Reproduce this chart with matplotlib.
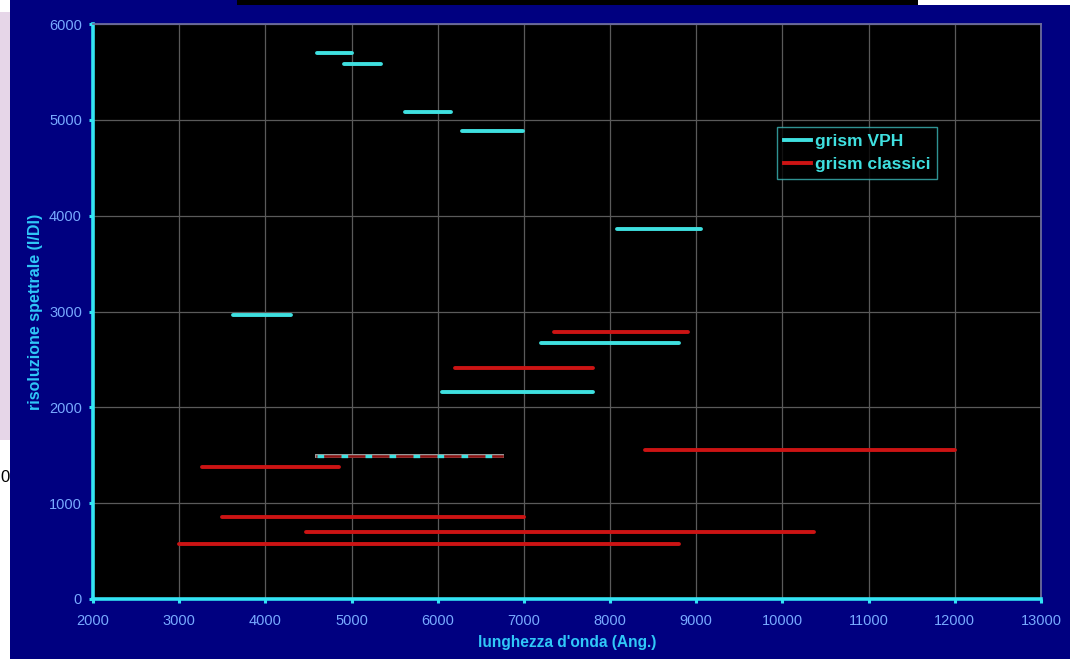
import matplotlib
matplotlib.use("Agg")
import matplotlib.pyplot as plt
from matplotlib.lines import Line2D
from matplotlib.patches import Rectangle

# ---- data (wavelength range in Angstrom, spectral resolution) ----
vph_start = [4600, 4910, 5620, 6280, 8080, 3630, 7200, 6050]
vph_end   = [5000, 5340, 6150, 6990, 9050, 4300, 8800, 7800]
vph_res   = [5700, 5580, 5080, 4880, 3860, 2965, 2670, 2160]

cls_start = [7350, 6200, 8400, 3260, 3500, 4470, 3000]
cls_end   = [8900, 7800, 12000, 4850, 7000, 10370, 8800]
cls_res   = [2783, 2407, 1555, 1374, 853, 702, 577]

# grism present in both families (drawn dashed)
shared_start = [4600]
shared_end   = [6750]
shared_res   = [1492]

series_labels = ["grism VPH", "grism classici"]
x_ticks = list(range(2000, 13001, 1000))
y_ticks = list(range(0, 6001, 1000))
x_label = "lunghezza d'onda (Ang.)"
y_label = "risoluzione spettrale (l/Dl)"

# ---- style ----
NAVY = "#000080"
CYAN = "#3fe0e0"
RED = "#cc1414"
AXCYAN = "#33e4f4"
TICKTXT = "#78aaff"
LABTXT = "#30c8f8"

plt.rcParams['font.family'] = ['Liberation Sans', 'DejaVu Sans']

fig = plt.figure(figsize=(10.70, 6.59), dpi=100, facecolor=NAVY)

W, H = 1070, 659
def px_rect(x0, y0, x1, y1, color):
    fig.patches.append(Rectangle((x0 / W, 1 - y1 / H), (x1 - x0) / W, (y1 - y0) / H,
                                 transform=fig.transFigure, facecolor=color,
                                 edgecolor='none', zorder=0))

# slide remnants around the screenshot
px_rect(0, 0, 10, 659, "white")
px_rect(0, 12, 10, 440, "#e6d6e8")
px_rect(237, 0, 918, 5, "black")
px_rect(918, 0, 1070, 5, "white")
fig.text(0.0, 1 - 478 / H, "0", color="black", fontsize=12, va="center", ha="left")

ax = fig.add_axes([93 / W, 1 - 599 / H, (1041 - 93) / W, (599 - 24) / H])
ax.set_facecolor("black")

for s, e, r in zip(vph_start, vph_end, vph_res):
    ax.plot([s, e], [r, r], color=CYAN, lw=2.8, solid_capstyle='round', zorder=3)
for s, e, r in zip(cls_start, cls_end, cls_res):
    ax.plot([s, e], [r, r], color=RED, lw=2.8, solid_capstyle='round', zorder=3)
for s, e, r in zip(shared_start, shared_end, shared_res):
    ax.plot([s, e], [r, r], color="#a0a0a0", lw=2.8, zorder=3)
    ax.plot([s, e], [r, r], color="#8a1010", lw=1.8, zorder=4)
    ax.plot([s, e], [r, r], color=CYAN, lw=2.4, dashes=(2.0, 5.2), dash_capstyle='butt', zorder=5)

ax.set_xlim(x_ticks[0], x_ticks[-1])
ax.set_ylim(y_ticks[0], y_ticks[-1])
ax.set_xticks(x_ticks)
ax.set_yticks(y_ticks)
ax.grid(True, color="#5a5a5a", lw=0.9, zorder=1)
ax.set_axisbelow(True)

for side in ("left", "bottom"):
    ax.spines[side].set_color(AXCYAN)
    ax.spines[side].set_linewidth(2.6)
for side in ("top", "right"):
    ax.spines[side].set_color("#6c6c9c")
    ax.spines[side].set_linewidth(1.3)

ax.tick_params(axis='both', colors=AXCYAN, length=3, width=2.2, direction='out',
               labelcolor=TICKTXT, labelsize=10.5)
ax.tick_params(axis='x', pad=8)
ax.tick_params(axis='y', pad=5)

ax.set_xlabel(x_label, color=LABTXT, fontsize=11.2, fontweight='bold', labelpad=5)
ax.set_ylabel(y_label, color=LABTXT, fontsize=11.5, fontweight='bold', labelpad=4)

handles = [Line2D([], [], color=CYAN, lw=2.8), Line2D([], [], color=RED, lw=2.8)]
leg = ax.legend(handles, series_labels, loc='upper left',
                bbox_to_anchor=((777 - 93) / 948, (599 - 127) / 575),
                frameon=True, fancybox=False, facecolor="black", edgecolor="#3cb8b8",
                handlelength=1.55, handletextpad=0.22, borderpad=0.4, labelspacing=0.45,
                borderaxespad=0.0,
                prop={'weight': 'bold', 'size': 12.5})
leg.get_frame().set_linewidth(1.0)
for t in leg.get_texts():
    t.set_color(CYAN)

fig.savefig("out.png", dpi=100, facecolor=NAVY)
